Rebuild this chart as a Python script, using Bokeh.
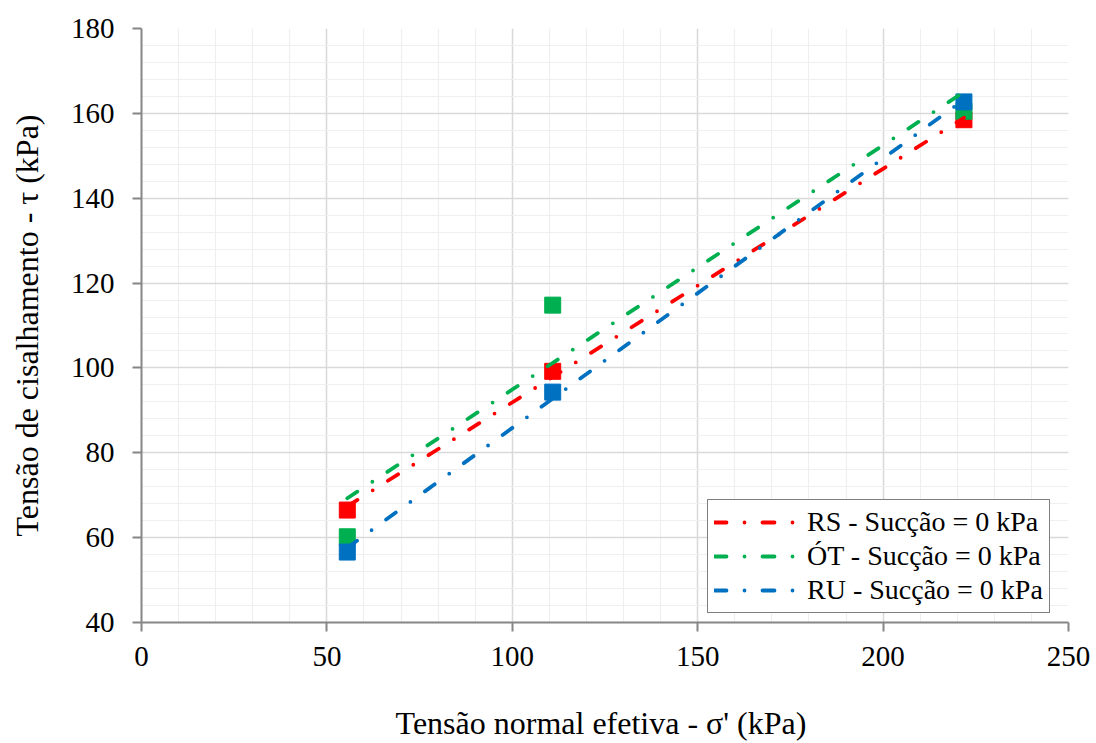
import numpy as np
from bokeh.plotting import figure
from bokeh.models import Range1d, SingleIntervalTicker, Legend, LegendItem
from bokeh.embed import file_html
from bokeh.resources import INLINE

# ---- data ----
sigma = [55.5, 110.9, 221.8]
tau_rs = [66.5, 99.2, 158.5]
tau_ot = [60.2, 114.8, 160.5]
tau_ru = [56.6, 94.3, 162.7]

series_names = ["RS - Sucção = 0 kPa", "ÓT - Sucção = 0 kPa", "RU - Sucção = 0 kPa"]
series_colors = ["#ff0000", "#00b050", "#0070c0"]
series_values = [tau_rs, tau_ot, tau_ru]

FONT = "Tinos"

p = figure(width=1096, height=743, output_backend="svg", toolbar_location=None,
           x_range=Range1d(0, 250), y_range=Range1d(40, 180))
p.min_border_left = 141
p.min_border_right = 28
p.min_border_top = 28
p.min_border_bottom = 121
p.outline_line_color = None
p.background_fill_color = "white"
p.border_fill_color = "white"

p.xaxis.ticker = SingleIntervalTicker(interval=50, num_minor_ticks=5)
p.yaxis.ticker = SingleIntervalTicker(interval=20, num_minor_ticks=5)

for g in (p.xgrid, p.ygrid):
    g.grid_line_color = "#d9d9d9"
    g.grid_line_width = 1.5
    g.minor_grid_line_color = "#efefef"
    g.minor_grid_line_width = 1.2

for ax in (p.xaxis, p.yaxis):
    ax.axis_line_color = "#868686"
    ax.axis_line_width = 2
    ax.major_tick_line_color = "#868686"
    ax.major_tick_line_width = 2
    ax.major_tick_out = 9
    ax.major_tick_in = 0
    ax.minor_tick_out = 0
    ax.minor_tick_in = 0
    ax.major_label_text_font = FONT
    ax.major_label_text_font_size = "29px"
    ax.major_label_text_color = "black"
    ax.axis_label_text_font = FONT
    ax.axis_label_text_font_size = "32px"
    ax.axis_label_text_font_style = "normal"
    ax.axis_label_text_color = "black"

p.xaxis.axis_label = "Tensão normal efetiva  - σ' (kPa)"
p.yaxis.axis_label = "Tensão de cisalhamento - τ (kPa)"
p.xaxis.major_label_standoff = 15
p.yaxis.major_label_standoff = 18
p.xaxis.axis_label_standoff = 36
p.yaxis.axis_label_standoff = 23

for vals, col in zip(series_values, series_colors):
    p.scatter(sigma, vals, marker="square", size=16, fill_color=col, line_color=col)

items = []
for name, vals, col in zip(series_names, series_values, series_colors):
    m, b = np.polyfit(sigma, vals, 1)
    xs = [min(sigma), max(sigma)]
    ys = [m * xs[0] + b, m * xs[1] + b]
    r = p.line(xs, ys, line_color=col, line_width=3.8, line_dash="12 18 0 18", line_cap="round")
    items.append(LegendItem(label=name, renderers=[r]))

legend = Legend(items=items, location=(566, 9))
legend.label_text_font = FONT
legend.label_text_font_size = "28px"
legend.label_text_color = "black"
legend.border_line_color = "black"
legend.border_line_width = 1.5
legend.background_fill_alpha = 1
legend.padding = 6
legend.spacing = 2
legend.margin = 0
legend.glyph_width = 83
legend.glyph_height = 30
legend.label_height = 30
legend.label_standoff = 10
p.add_layout(legend, "center")

open("out.html", "w").write(file_html(p, INLINE))
